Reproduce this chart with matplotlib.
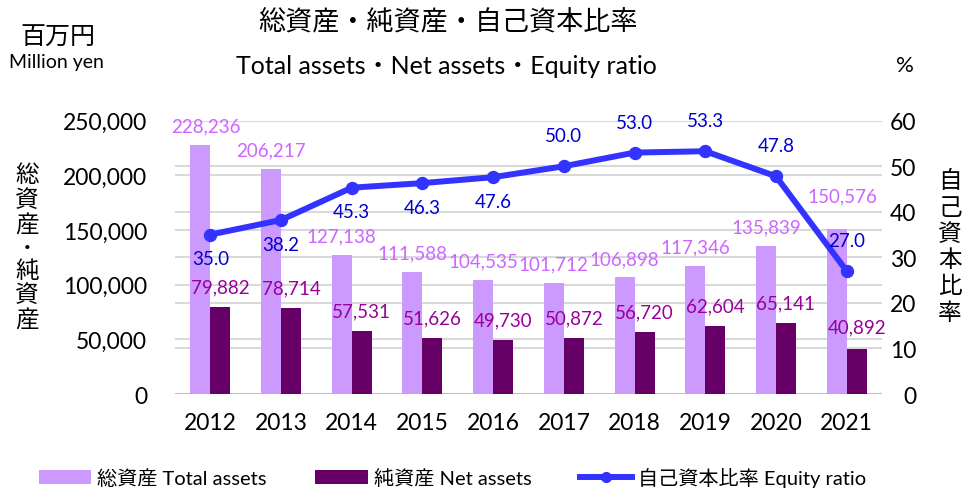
import matplotlib
matplotlib.use("Agg")
import matplotlib.pyplot as plt
from matplotlib.patches import Patch
from matplotlib.lines import Line2D
import numpy as np

years = ["2012", "2013", "2014", "2015", "2016", "2017", "2018", "2019", "2020", "2021"]
total_assets = [228236, 206217, 127138, 111588, 104535, 101712, 106898, 117346, 135839, 150576]
net_assets = [79882, 78714, 57531, 51626, 49730, 50872, 56720, 62604, 65141, 40892]
equity_ratio = [35.0, 38.2, 45.3, 46.3, 47.6, 50.0, 53.0, 53.3, 47.8, 27.0]
left_ticks = [0, 50000, 100000, 150000, 200000, 250000]
right_ticks = [0, 10, 20, 30, 40, 50, 60]

FONT = ["Lato", "Noto Sans CJK JP", "DejaVu Sans"]
JFONT = ["Noto Sans CJK JP", "DejaVu Sans"]
plt.rcParams["font.family"] = FONT

C_TOTAL = "#CC99FF"
C_NET = "#660066"
C_LINE = "#3333FF"
C_TOTAL_LBL = "#CC66FF"
C_NET_LBL = "#990099"
C_RATIO_LBL = "#0000CC"
C_GRID = "#D9D9D9"

fig = plt.figure(figsize=(9.63, 4.89), dpi=100)
ax = fig.add_axes([0.1817, 0.1922, 0.7342, 0.5589])
ax2 = ax.twinx()

x = np.arange(len(years))
w = 0.283
off = 0.1415

ymax = left_ticks[-1]
rmax = right_ticks[-1]
ax.set_ylim(0, ymax)
ax2.set_ylim(0, rmax)
ax.set_xlim(-0.5, len(years) - 0.5)

# gridlines for both axes (drawn behind bars)
for v in left_ticks[1:]:
    ax.axhline(v, color=C_GRID, lw=1.5, zorder=0)
for v in right_ticks[1:]:
    ax.axhline(v / rmax * ymax, color=C_GRID, lw=1.5, zorder=0)

ax.bar(x - off, total_assets, width=w, color=C_TOTAL, zorder=2)
ax.bar(x + off, net_assets, width=w, color=C_NET, zorder=2)

ax2.plot(x, equity_ratio, color=C_LINE, lw=4.3, marker="o", markersize=8.6, zorder=3)

# data labels
LBL = 13.5
for i, v in enumerate(total_assets):
    dx, dy = 0, 13.5
    if i == 0:
        dx = 4
    if i == len(years) - 1:
        dx = 4
        dy = 24
    ax.annotate(f"{v:,}", (x[i] - off, v), xytext=(dx, dy), textcoords="offset points",
                ha="center", va="center", fontsize=LBL, color=C_TOTAL_LBL, zorder=4)
for i, v in enumerate(net_assets):
    dy = 14.5
    if i == len(years) - 1:
        dy = 16.5
    ax.annotate(f"{v:,}", (x[i] + off, v), xytext=(0, dy), textcoords="offset points",
                ha="center", va="center", fontsize=LBL, color=C_NET_LBL, zorder=4)
for i, v in enumerate(equity_ratio):
    dy = -17.5 if i < 5 else 22
    ax2.annotate(f"{v:.1f}", (x[i], v), xytext=(0, dy), textcoords="offset points",
                 ha="center", va="center", fontsize=LBL, color=C_RATIO_LBL, zorder=5)

# axes styling
for a in (ax, ax2):
    for s in ("top", "left", "right", "bottom"):
        a.spines[s].set_visible(False)
ax.axhline(0, color="#BFBFBF", lw=1.5, zorder=1)

ax.set_xticks(x)
ax.set_xticklabels(years)
ax.set_yticks(left_ticks)
ax.set_yticklabels([f"{v:,}" for v in left_ticks])
ax2.set_yticks(right_ticks)
ax2.set_yticklabels([str(v) for v in right_ticks], ha="right")
ax.tick_params(axis="both", length=0, labelsize=16.5, colors="black")
ax.tick_params(axis="x", pad=13)
ax.tick_params(axis="y", pad=20)
ax2.tick_params(axis="y", length=0, labelsize=16.5, colors="black", pad=24.5)

# titles
fig.text(0.465, 0.955, "総資産・純資産・自己資本比率", ha="center", va="center",
         fontsize=19.5, family=JFONT)
fig.text(0.464, 0.865, "Total assets・Net assets・Equity ratio", ha="center", va="center",
         fontsize=18, family=FONT)
fig.text(0.060, 0.922, "百万円", ha="center", va="center", fontsize=18, family=JFONT)
fig.text(0.059, 0.873, "Million yen", ha="center", va="center", fontsize=14, family=FONT)
fig.text(0.940, 0.865, "%", ha="center", va="center", fontsize=16, family=FONT)

# vertical stacked axis titles
left_title = ["総", "資", "産", "・", "純", "資", "産"]
ypix = [175, 201, 226, 248, 271, 296, 321]
for ch, yp in zip(left_title, ypix):
    fs = 12 if ch == "・" else 17
    fw = "bold" if ch == "・" else "normal"
    fig.text(27 / 963, 1 - yp / 489, ch, ha="center", va="center", fontsize=fs,
             fontweight=fw, family=JFONT)
right_title = ["自", "己", "資", "本", "比", "率"]
for k, ch in enumerate(right_title):
    yp = 182 + k * 26.2
    fig.text(950 / 963, 1 - yp / 489, ch, ha="center", va="center", fontsize=17, family=JFONT)

# legend
handles = [
    Patch(facecolor=C_TOTAL, edgecolor="none"),
    Patch(facecolor=C_NET, edgecolor="none"),
    Line2D([0], [0], color=C_LINE, lw=4.3, marker="o", markersize=7),
]
labels = ["総資産 Total assets", "純資産 Net assets", "自己資本比率 Equity ratio"]
fig.legend(handles, labels, loc="center", ncol=3, frameon=False,
           bbox_to_anchor=(0.470, 0.022), fontsize=14.5, handlelength=2.6,
           handleheight=0.7, columnspacing=2.4, handletextpad=0.3)

fig.savefig("out.png", dpi=100)
